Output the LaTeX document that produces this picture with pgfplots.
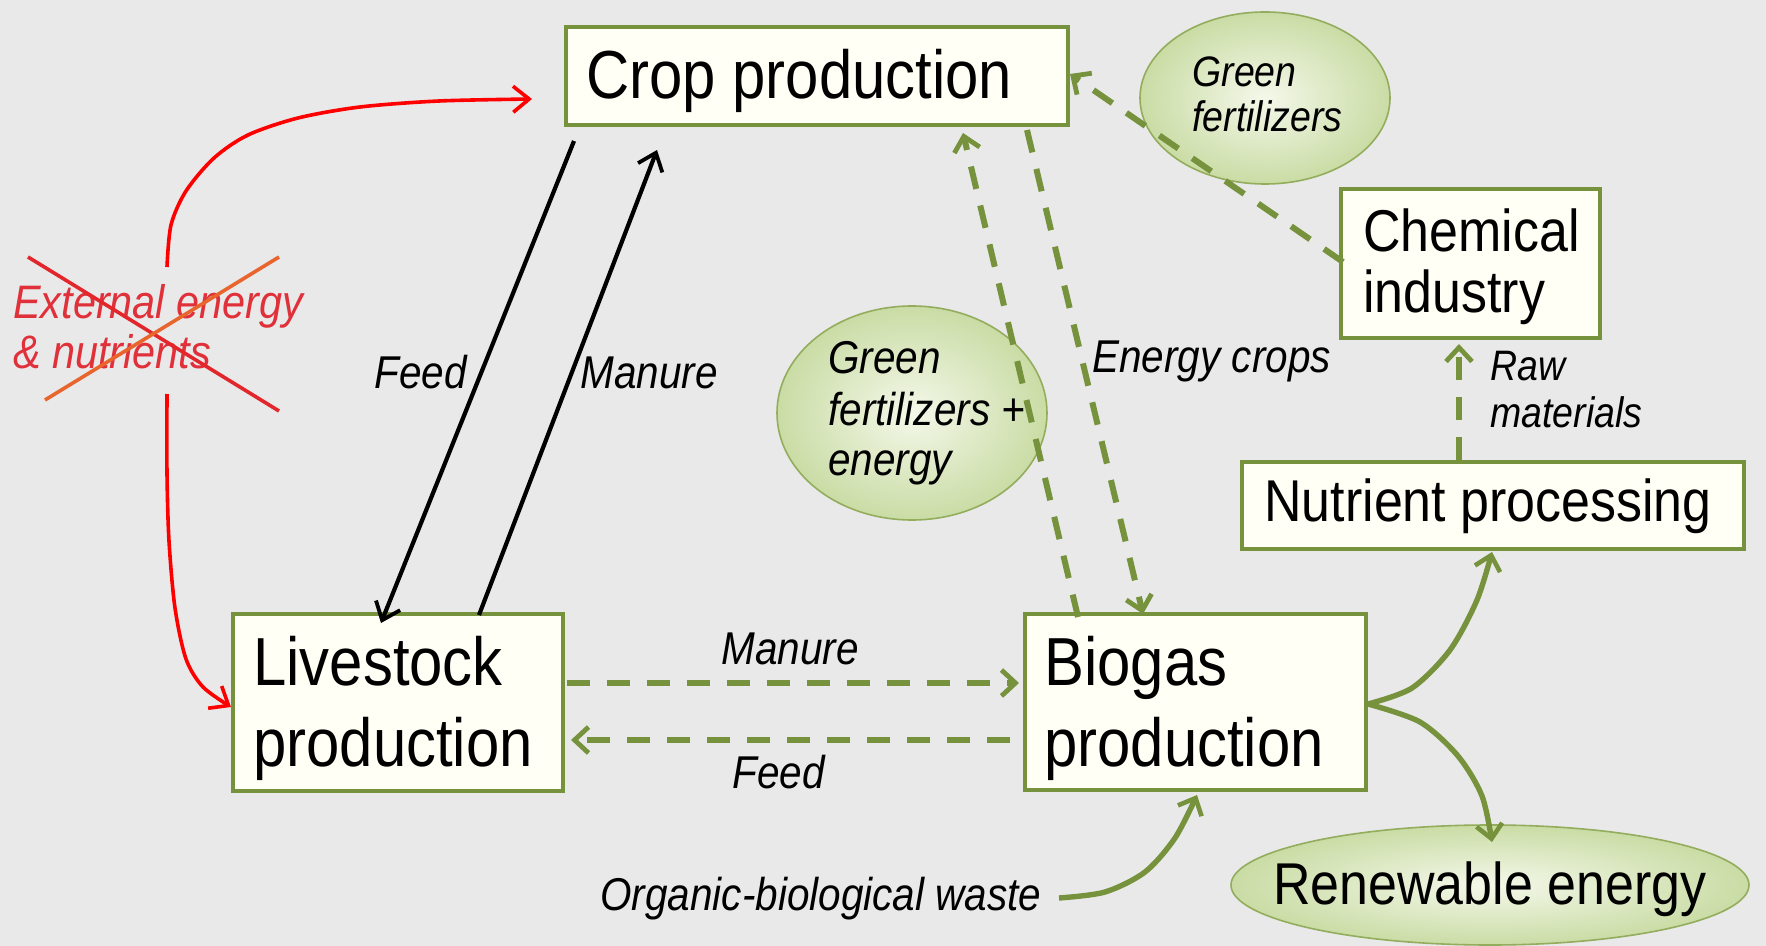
\documentclass[border=0pt]{standalone}
\usepackage{pgfplots}
\pgfplotsset{compat=1.18}
\usepackage{fontspec}
\setmainfont{Liberation Sans}[FakeStretch=0.88]
\usetikzlibrary{arrows.meta,shapes.geometric}

\definecolor{bg}{HTML}{E9E9E9}
\definecolor{boxfill}{HTML}{FFFFF6}
\definecolor{olive}{HTML}{76923C}
\definecolor{ellin}{HTML}{F4F8EA}
\definecolor{ellout}{HTML}{CADCA5}
\definecolor{ellrim}{HTML}{93AD5C}
\definecolor{xred}{HTML}{E3262B}
\definecolor{xorange}{HTML}{E8652E}
\definecolor{txtred}{HTML}{E0303A}

\tikzset{
  box/.style={fill=boxfill, draw=olive, line width=2.3pt, line join=miter},
  blob/.style={ellipse, draw=ellrim, line width=0.8pt, shading=radial, inner color=ellin, outer color=ellout},
  gdash/.style={olive, line width=3pt, dash pattern=on 11.5pt off 8.5pt, -{Straight Barb[length=7pt,width=13pt,line width=2.4pt]}},
  gsolid/.style={olive, line width=2.7pt, -{Straight Barb[length=7pt,width=13pt,line width=2.3pt]}},
  blk/.style={black, line width=2.1pt, -{Straight Barb[length=8pt,width=13pt,line width=1.9pt]}},
  rd/.style={red, line width=1.8pt, -{Straight Barb[length=8pt,width=13pt,line width=1.8pt]}},
  big/.style={anchor=base west, inner sep=0pt, font=\fontsize{34}{40}\selectfont},
  mid/.style={anchor=base west, inner sep=0pt, font=\fontsize{29.5}{34}\selectfont},
  lab/.style={anchor=base west, inner sep=0pt, font=\itshape\fontsize{23}{26}\selectfont},
  sml/.style={anchor=base west, inner sep=0pt, font=\itshape\fontsize{21.3}{24}\selectfont},
}

\begin{document}
\begin{tikzpicture}
\begin{axis}[width=883pt, height=473pt, scale only axis,
    xmin=0, xmax=1766, ymin=0, ymax=946, y dir=reverse,
    hide axis, clip=false]

% background
\addplot[draw=none, fill=bg] coordinates {(0,0) (1766,0) (1766,946) (0,946)} --cycle;

% ellipses
\node[blob, minimum width=125pt, minimum height=86pt] at (axis cs:1265,98) {};
\node[blob, minimum width=135pt, minimum height=107pt] at (axis cs:912,413) {};
\node[blob, minimum width=259pt, minimum height=60pt] at (axis cs:1490,885) {};

% boxes
\addplot[box] coordinates {(566,27) (1068,27) (1068,125) (566,125)} --cycle;
\addplot[box] coordinates {(233,614) (563,614) (563,791) (233,791)} --cycle;
\addplot[box] coordinates {(1025,614) (1366,614) (1366,790) (1025,790)} --cycle;
\addplot[box] coordinates {(1341,189) (1600,189) (1600,338) (1341,338)} --cycle;
\addplot[box] coordinates {(1242,462) (1744,462) (1744,549) (1242,549)} --cycle;

% black arrows
\addplot[blk] coordinates {(574,141) (381,623)};
\addplot[blk] coordinates {(479,615) (657,150)};

% green dashed arrows
\addplot[gdash] coordinates {(1078,617) (963,133)};
\addplot[gdash] coordinates {(1027,130) (1143,614)};
\addplot[gdash] coordinates {(1343,262) (1070,74)};
\addplot[gdash] coordinates {(1459,460) (1459,344)};
\addplot[gdash] coordinates {(567,683) (1019,683)};
\addplot[gdash] coordinates {(1010,740) (571,740)};

% green solid curves
\addplot[gsolid, smooth] coordinates {(1059,898) (1105,892) (1145,872) (1175,838) (1197,795)};
\addplot[gsolid, smooth] coordinates {(1368,704) (1412,688) (1450,650) (1477,600) (1492,552)};
\addplot[gsolid, smooth] coordinates {(1368,704) (1420,722) (1458,756) (1482,796) (1492,842)};

% red curves
\addplot[rd, smooth] coordinates {(167,267) (171,225) (186,191) (214,158) (248,135) (298,118) (360,107) (439,101) (532,99)};
\addplot[rd, smooth] coordinates {(167,394) (167,473) (169,541) (175,608) (186,659) (203,687) (231,707)};

% box texts
\node[big] at (axis cs:586,99) {Crop production};
\node[big] at (axis cs:253,685) {Livestock};
\node[big] at (axis cs:253,766) {production};
\node[big] at (axis cs:1044,685) {Biogas};
\node[big] at (axis cs:1044,766) {production};
\node[mid] at (axis cs:1363,252) {Chemical};
\node[mid] at (axis cs:1363,313) {industry};
\node[mid] at (axis cs:1264,521) {Nutrient processing};
\node[mid] at (axis cs:1273,904) {Renewable energy};

% italic labels
\node[sml] at (axis cs:1192,87) {Green};
\node[sml] at (axis cs:1192,132) {fertilizers};
\node[lab] at (axis cs:828,374) {Green};
\node[lab] at (axis cs:828,425) {fertilizers +};
\node[lab] at (axis cs:828,475) {energy};
\node[lab, anchor=base east] at (axis cs:467,389) {Feed};
\node[lab] at (axis cs:580,389) {Manure};
\node[lab] at (axis cs:1092,372) {Energy crops};
\node[sml] at (axis cs:1490,381) {Raw};
\node[sml] at (axis cs:1490,428) {materials};
\node[lab] at (axis cs:721,664) {Manure};
\node[lab] at (axis cs:732,788) {Feed};
\node[lab] at (axis cs:600,910) {Organic-biological waste};
\node[lab, text=txtred, font=\itshape\fontsize{23.5}{26}\selectfont] at (axis cs:13,319) {External energy};
\node[lab, text=txtred, font=\itshape\fontsize{23.5}{26}\selectfont] at (axis cs:13,369) {\& nutrients};

% red cross
\addplot[xred, line width=1.8pt] coordinates {(28,257) (279,411)};
\addplot[xorange, line width=1.8pt] coordinates {(45,400) (279,257)};

\end{axis}
\end{tikzpicture}
\end{document}
